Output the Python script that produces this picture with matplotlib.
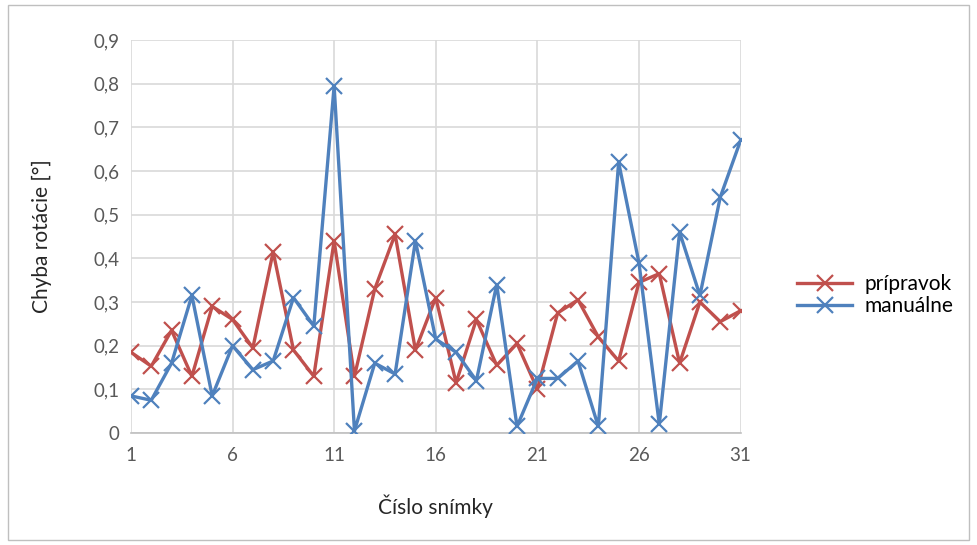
import matplotlib.pyplot as plt
from matplotlib.patches import Rectangle
from matplotlib.ticker import FuncFormatter

plt.rcParams['font.family'] = ['Lato', 'DejaVu Sans']

snimky = list(range(1, 32))
pripravok = [0.185, 0.153, 0.235, 0.13, 0.29, 0.26, 0.195, 0.415, 0.19, 0.13,
             0.44, 0.13, 0.33, 0.455, 0.19, 0.31, 0.115, 0.26, 0.155, 0.205,
             0.10, 0.275, 0.305, 0.22, 0.165, 0.345, 0.365, 0.16, 0.30, 0.255,
             0.28]
manualne = [0.085, 0.075, 0.16, 0.315, 0.085, 0.20, 0.145, 0.165, 0.31, 0.245,
            0.795, 0.005, 0.16, 0.135, 0.44, 0.215, 0.185, 0.12, 0.34, 0.015,
            0.125, 0.125, 0.165, 0.015, 0.62, 0.39, 0.02, 0.46, 0.315, 0.54,
            0.67]
x_ticks = [1, 6, 11, 16, 21, 26, 31]

fig = plt.figure(figsize=(9.77, 5.45), dpi=100)
ax = fig.add_axes([0.134, 0.2055, 0.624, 0.721])

# ramcek okolo celeho grafu
fig.patches.append(Rectangle((0.008, 0.01), 0.984, 0.98, transform=fig.transFigure,
                             fill=False, edgecolor='#BFBFBF', linewidth=1))

ax.plot(snimky, pripravok, color='#C0504D', linewidth=2.4, marker='x',
        markersize=11, markeredgewidth=1.6, label='prípravok', zorder=3)
ax.plot(snimky, manualne, color='#4F81BD', linewidth=2.4, marker='x',
        markersize=11, markeredgewidth=1.6, label='manuálne', zorder=3)

ax.set_xlim(1, 31)
ax.set_ylim(0, 0.9)
ax.set_xticks(x_ticks)
ax.set_yticks([i / 10 for i in range(10)])
ax.yaxis.set_major_formatter(FuncFormatter(lambda v, p: f'{v:.1f}'.replace('.', ',') if v > 0 else '0'))
ax.grid(True, color='#D9D9D9', linewidth=1.2)
ax.set_axisbelow(True)
for s in ['top', 'right', 'left']:
    ax.spines[s].set_visible(False)
ax.spines['bottom'].set_color('#BFBFBF')
ax.spines['bottom'].set_linewidth(1.2)
ax.tick_params(length=0, labelsize=13.5, colors='#595959', pad=10)
ax.tick_params(axis='y', pad=8)

ax.set_xlabel('Číslo snímky', fontsize=15, color='#262626', labelpad=22)
ax.set_ylabel('Chyba rotácie [°]', fontsize=15, color='#262626', labelpad=30)

fig.legend(loc='center left', bbox_to_anchor=(0.797, 0.458), frameon=False,
           fontsize=15, handlelength=2.6, labelspacing=0.1, handletextpad=0.6)

plt.savefig('out.png', dpi=100)
